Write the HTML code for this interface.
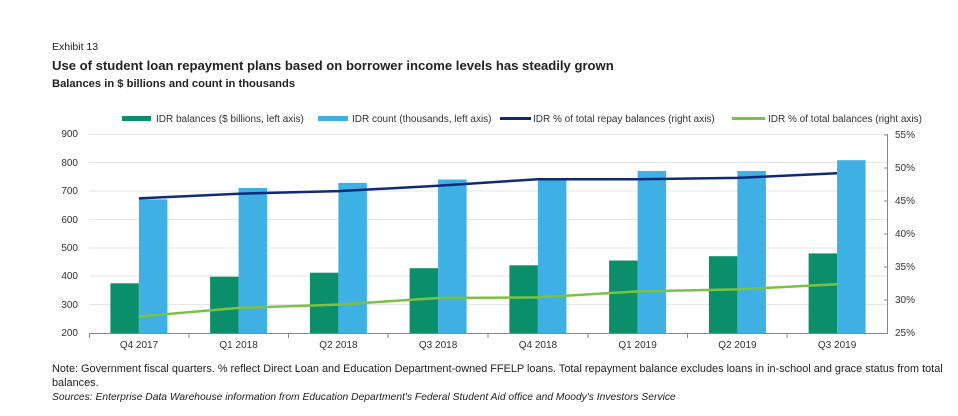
<!DOCTYPE html>
<html><head><meta charset="utf-8"><style>
body{margin:0;background:#fff;width:958px;height:411px;overflow:hidden;font-family:"Liberation Sans",sans-serif}
</style></head><body>
<svg width="958" height="411" xmlns="http://www.w3.org/2000/svg" font-family="Liberation Sans, sans-serif">
<text x="52" y="50" font-size="10.5" fill="#222">Exhibit 13</text>
<text x="52" y="70" font-size="13.1" font-weight="bold" fill="#222">Use of student loan repayment plans based on borrower income levels has steadily grown</text>
<text x="52" y="87" font-size="11.2" font-weight="bold" fill="#222">Balances in $ billions and count in thousands</text>
<g font-size="10" fill="#333">
<rect x="122" y="116" width="29" height="5" fill="#0b8f6a"/><text x="156" y="122">IDR balances ($ billions, left axis)</text>
<rect x="318" y="116" width="30" height="5" fill="#3eb0e3"/><text x="352" y="122">IDR count (thousands, left axis)</text>
<rect x="500" y="117" width="31" height="3" fill="#0f2a7a"/><text x="533" y="122">IDR % of total repay balances (right axis)</text>
<rect x="732" y="117" width="33" height="3" fill="#7cc242"/><text x="768" y="122">IDR % of total balances (right axis)</text>
</g>
<g stroke="#e6e6e6" stroke-width="1">
<line x1="89" x2="887" y1="134.5" y2="134.5"/><line x1="89" x2="887" y1="162.5" y2="162.5"/><line x1="89" x2="887" y1="191" y2="191"/><line x1="89" x2="887" y1="219.5" y2="219.5"/><line x1="89" x2="887" y1="248" y2="248"/><line x1="89" x2="887" y1="276" y2="276"/><line x1="89" x2="887" y1="304.5" y2="304.5"/>
</g>
<g font-size="10" fill="#333" text-anchor="end">
<text x="78" y="137">900</text><text x="78" y="166">800</text><text x="78" y="194">700</text><text x="78" y="223">600</text><text x="78" y="251">500</text><text x="78" y="279">400</text><text x="78" y="308">300</text><text x="78" y="336">200</text>
</g>
<g font-size="10" fill="#333">
<text x="895" y="138">55%</text><text x="895" y="171">50%</text><text x="895" y="204">45%</text><text x="895" y="237">40%</text><text x="895" y="270">35%</text><text x="895" y="303">30%</text><text x="895" y="336">25%</text>
</g>
<g fill="#0b8f6a">
<rect x="110.4" y="283.3" width="28.5" height="49.7"/>
<rect x="210.1" y="276.7" width="28.5" height="56.3"/>
<rect x="309.9" y="272.7" width="28.5" height="60.3"/>
<rect x="409.6" y="268.2" width="28.5" height="64.8"/>
<rect x="509.4" y="265.3" width="28.5" height="67.7"/>
<rect x="609.1" y="260.5" width="28.5" height="72.5"/>
<rect x="708.9" y="256.2" width="28.5" height="76.8"/>
<rect x="808.6" y="253.4" width="28.5" height="79.6"/>
</g>
<g fill="#3eb0e3">
<rect x="138.9" y="199.4" width="28.5" height="133.6"/>
<rect x="238.6" y="188.0" width="28.5" height="145"/>
<rect x="338.4" y="182.9" width="28.5" height="150.1"/>
<rect x="438.1" y="179.5" width="28.5" height="153.5"/>
<rect x="537.9" y="178.1" width="28.5" height="154.9"/>
<rect x="637.6" y="171.0" width="28.5" height="162"/>
<rect x="737.4" y="171.0" width="28.5" height="162"/>
<rect x="837.1" y="160.2" width="28.5" height="172.8"/>
</g>
<polyline points="138.9,198.4 238.6,193.7 338.4,191.1 438.1,185.8 537.9,179.2 637.6,179.2 737.4,177.9 837.1,173.3" fill="none" stroke="#0f2a7a" stroke-width="2.5"/>
<polyline points="138.9,316.5 238.6,307.9 338.4,304.6 438.1,298.0 537.9,297.4 637.6,291.4 737.4,289.4 837.1,284.2" fill="none" stroke="#7cc242" stroke-width="2.5"/>
<line x1="89" x2="887" y1="333.5" y2="333.5" stroke="#888"/>
<line x1="887.5" x2="887.5" y1="134" y2="334" stroke="#888"/>
<g stroke="#888">
<line x1="89.5" x2="89.5" y1="333" y2="338"/><line x1="189" x2="189" y1="333" y2="338"/><line x1="288.5" x2="288.5" y1="333" y2="338"/><line x1="388" x2="388" y1="333" y2="338"/><line x1="488" x2="488" y1="333" y2="338"/><line x1="588" x2="588" y1="333" y2="338"/><line x1="687.5" x2="687.5" y1="333" y2="338"/><line x1="787" x2="787" y1="333" y2="338"/>
<line x1="884" x2="887" y1="135" y2="135"/><line x1="884" x2="887" y1="168" y2="168"/><line x1="884" x2="887" y1="201" y2="201"/><line x1="884" x2="887" y1="234" y2="234"/><line x1="884" x2="887" y1="267" y2="267"/><line x1="884" x2="887" y1="300" y2="300"/>
</g>
<g font-size="10" fill="#333" text-anchor="middle">
<text x="139" y="348">Q4 2017</text><text x="238.6" y="348">Q1 2018</text><text x="338.4" y="348">Q2 2018</text><text x="438.1" y="348">Q3 2018</text><text x="537.9" y="348">Q4 2018</text><text x="637.6" y="348">Q1 2019</text><text x="737.4" y="348">Q2 2019</text><text x="837.1" y="348">Q3 2019</text>
</g>
<g font-size="10.9" fill="#222">
<text x="52" y="372">Note: Government fiscal quarters. % reflect Direct Loan and Education Department-owned FFELP loans. Total repayment balance excludes loans in in-school and grace status from total</text>
<text x="52" y="386">balances.</text>
<text x="52" y="400" font-style="italic" font-size="10.3">Sources: Enterprise Data Warehouse information from Education Department's Federal Student Aid office and Moody's Investors Service</text>
</g>
</svg>
</body></html>
